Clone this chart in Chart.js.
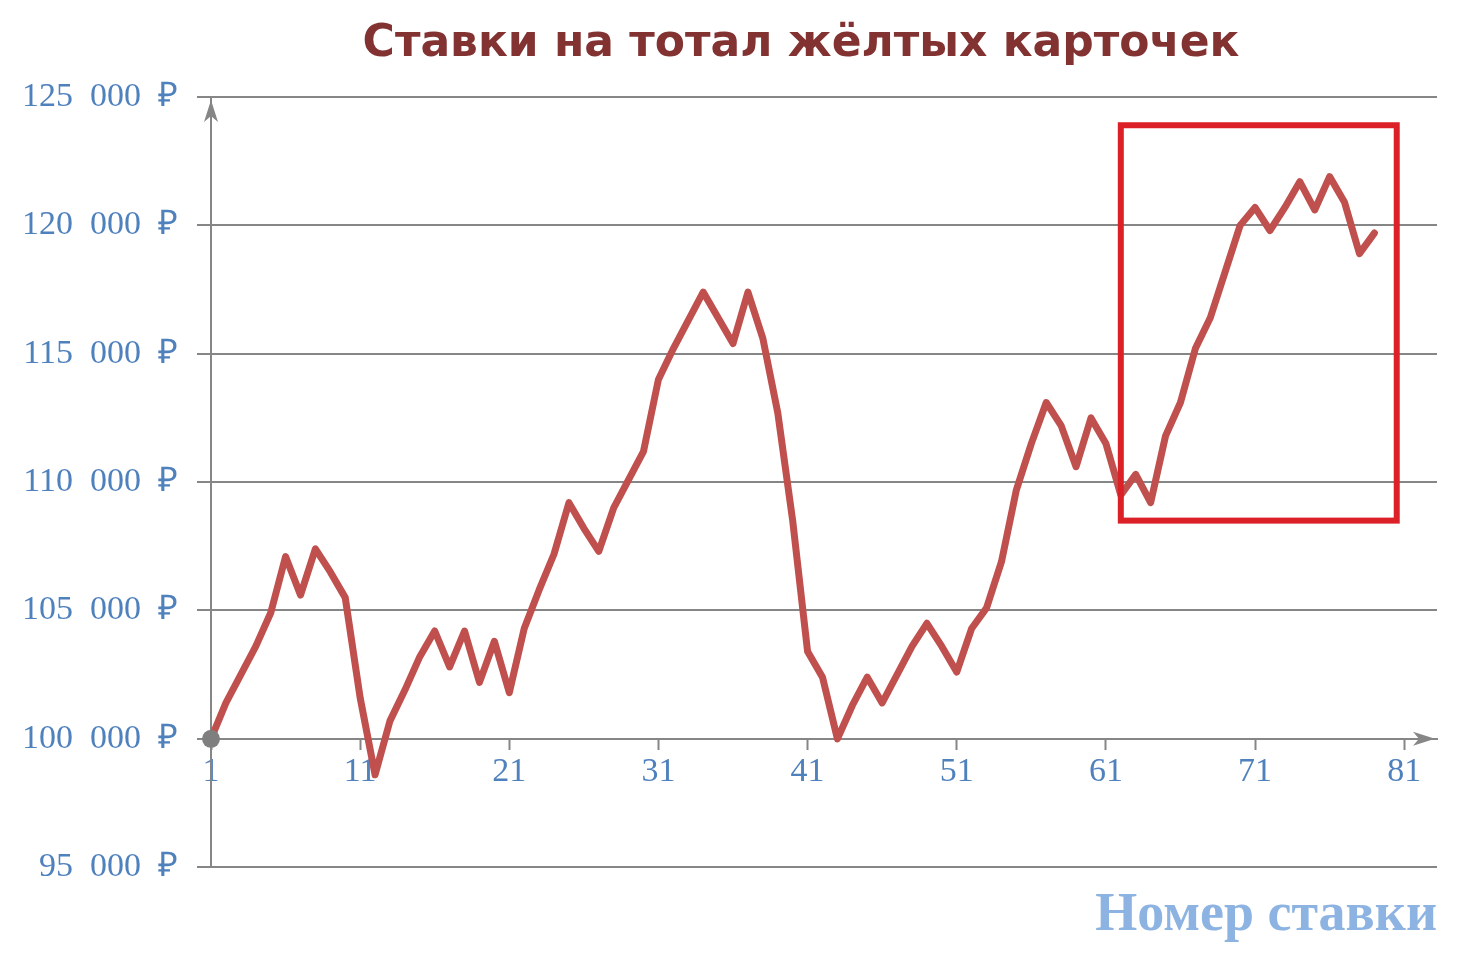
<!DOCTYPE html>
<html lang="ru">
<head>
<meta charset="utf-8">
<title>Ставки на тотал жёлтых карточек</title>
<script src="https://cdn.jsdelivr.net/npm/chart.js@4.4.1/dist/chart.umd.min.js"></script>
<style>
    html, body { margin: 0; padding: 0; background: #ffffff; }
    #wrap { width: 1460px; height: 974px; position: relative; }
</style>
</head>
<body>
<div id="wrap"><canvas id="betsChart"></canvas></div>
<script>
// --- 1. DATA ---

// Bet number (x) and bank after the bet (y)
const betNumbers = [
    1, 2, 3, 4, 5, 6, 7, 8, 9, 10,
    11, 12, 13, 14, 15, 16, 17, 18, 19, 20,
    21, 22, 23, 24, 25, 26, 27, 28, 29, 30,
    31, 32, 33, 34, 35, 36, 37, 38, 39, 40,
    41, 42, 43, 44, 45, 46, 47, 48, 49, 50,
    51, 52, 53, 54, 55, 56, 57, 58, 59, 60,
    61, 62, 63, 64, 65, 66, 67, 68, 69, 70,
    71, 72, 73, 74, 75, 76, 77, 78, 79,
];
const bankValues = [
    100000, 101400, 102500, 103600, 104900, 107100, 105600, 107400, 106500, 105500,
    101600, 98600, 100700, 101900, 103200, 104200, 102800, 104200, 102200, 103800,
    101800, 104300, 105800, 107200, 109200, 108200, 107300, 109000, 110100, 111200,
    114000, 115200, 116300, 117400, 116400, 115400, 117400, 115600, 112700, 108500,
    103400, 102400, 100000, 101300, 102400, 101400, 102500, 103600, 104500, 103600,
    102600, 104300, 105100, 106900, 109700, 111500, 113100, 112200, 110600, 112500,
    111500, 109500, 110300, 109200, 111800, 113100, 115200, 116400, 118200, 120000,
    120700, 119800, 120700, 121700, 120600, 121900, 120900, 118900, 119700,
];

// Tick labels
const xTickValues = [1, 11, 21, 31, 41, 51, 61, 71, 81];
const yTickValues = [95000, 100000, 105000, 110000, 115000, 120000, 125000];

// Highlighted zone (red frame), in data units
const frameBets = [62, 80.5];
const frameValues = [108500, 123900];

const chartTitle = "Ставки на тотал жёлтых карточек";

// --- 2. STYLE CONSTANTS ---
const AXIS_GREY = "#868686";
const LABEL_BLUE = "#4f81bd";
const LINE_RED = "#c0504d";
const FRAME_RED = "#dc2027";
const X_AXIS_CROSS = 100000; // x axis crosses y at 100 000

// "125 000 ₽" with wide gaps like the original
function formatRub(v) {
    return String(v).replace(/\B(?=(\d{3})+(?!\d))/g, "\u2002") + "\u2002\u20bd";
}

// --- 3. PLUGINS ---

// Title drawn a bit left of the plot centre, as in the original
const chartHeading = {
    id: "chartHeading",
    afterDraw(chart) {
        const { ctx, chartArea } = chart;
        ctx.save();
        ctx.fillStyle = "#833232";
        ctx.font = "bold 44px 'DejaVu Sans'";
        ctx.textAlign = "center";
        ctx.textBaseline = "middle";
        ctx.fillText(chartTitle, (chartArea.left + chartArea.right) / 2 - 23, 45);
        ctx.restore();
    },
};

// Arrow heads on both axes
const axisArrows = {
    id: "axisArrows",
    afterDraw(chart) {
        const { ctx, chartArea, scales } = chart;
        const ax = chartArea.left;
        const ay = scales.y.getPixelForValue(X_AXIS_CROSS);
        ctx.save();
        ctx.fillStyle = AXIS_GREY;
        // up
        const ty = chartArea.top + 3;
        ctx.beginPath();
        ctx.moveTo(ax, ty);
        ctx.lineTo(ax - 7, ty + 22);
        ctx.lineTo(ax, ty + 16);
        ctx.lineTo(ax + 7, ty + 22);
        ctx.closePath();
        ctx.fill();
        // right
        const tx = chartArea.right - 2;
        ctx.beginPath();
        ctx.moveTo(tx, ay);
        ctx.lineTo(tx - 22, ay - 7);
        ctx.lineTo(tx - 16, ay);
        ctx.lineTo(tx - 22, ay + 7);
        ctx.closePath();
        ctx.fill();
        ctx.restore();
    },
};

// Red frame around the last run
const highlightFrame = {
    id: "highlightFrame",
    afterDatasetsDraw(chart) {
        const { ctx, scales } = chart;
        const x1 = scales.x.getPixelForValue(frameBets[0]);
        const x2 = scales.x.getPixelForValue(frameBets[1]);
        const y1 = scales.y.getPixelForValue(frameValues[1]);
        const y2 = scales.y.getPixelForValue(frameValues[0]);
        ctx.save();
        ctx.strokeStyle = FRAME_RED;
        ctx.lineWidth = 6;
        ctx.strokeRect(x1, y1, x2 - x1, y2 - y1);
        ctx.restore();
    },
};

// --- 4. CHART ---
const ctxBets = document.getElementById("betsChart").getContext("2d");

new Chart(ctxBets, {
    type: "line",
    data: {
        datasets: [
            {
                label: "Банк",
                data: betNumbers.map((n, i) => ({ x: n, y: bankValues[i] })),
                borderColor: LINE_RED,
                borderWidth: 7,
                borderJoinStyle: "round",
                borderCapStyle: "round",
                tension: 0,
                clip: false,
                pointRadius: (c) => (c.dataIndex === 0 ? 9 : 0),
                pointBackgroundColor: "#7f7f7f",
                pointBorderWidth: 0,
            },
        ],
    },
    options: {
        responsive: true,
        maintainAspectRatio: false,
        animation: false,
        devicePixelRatio: 1,
        layout: { padding: { top: 97, right: 23, bottom: 22, left: 0 } },
        scales: {
            x: {
                type: "linear",
                position: { y: X_AXIS_CROSS },
                min: 1,
                max: 83.2,
                afterBuildTicks: (scale) => {
                    scale.ticks = xTickValues.map((v) => ({ value: v }));
                },
                grid: {
                    drawOnChartArea: false,
                    drawTicks: true,
                    tickLength: 10,
                    tickColor: AXIS_GREY,
                    tickWidth: 2,
                },
                border: { display: true, color: AXIS_GREY, width: 2 },
                ticks: {
                    color: LABEL_BLUE,
                    font: { family: "Liberation Serif", size: 34 },
                    padding: 3,
                    maxRotation: 0,
                    autoSkip: false,
                },
            },
            y: {
                min: 95000,
                max: 125000,
                afterBuildTicks: (scale) => {
                    scale.ticks = yTickValues.map((v) => ({ value: v }));
                },
                afterFit: (scale) => {
                    scale.width = 211;
                },
                grid: {
                    color: AXIS_GREY,
                    lineWidth: 2,
                    drawTicks: true,
                    tickLength: 14,
                },
                border: { display: true, color: AXIS_GREY, width: 2 },
                ticks: {
                    color: LABEL_BLUE,
                    font: { family: "Liberation Serif", size: 34 },
                    padding: 19,
                    callback: (v) => formatRub(v),
                },
            },
        },
        plugins: {
            legend: { display: false },
            tooltip: { enabled: false },
            title: { display: false },
            subtitle: {
                display: true,
                position: "bottom",
                align: "end",
                text: "Номер ставки",
                color: "#8db3e2",
                font: { family: "Liberation Serif", size: 54, weight: "bold" },
                padding: { top: 16, bottom: 4 },
            },
        },
    },
    plugins: [highlightFrame, axisArrows, chartHeading],
});
</script>
</body>
</html>
